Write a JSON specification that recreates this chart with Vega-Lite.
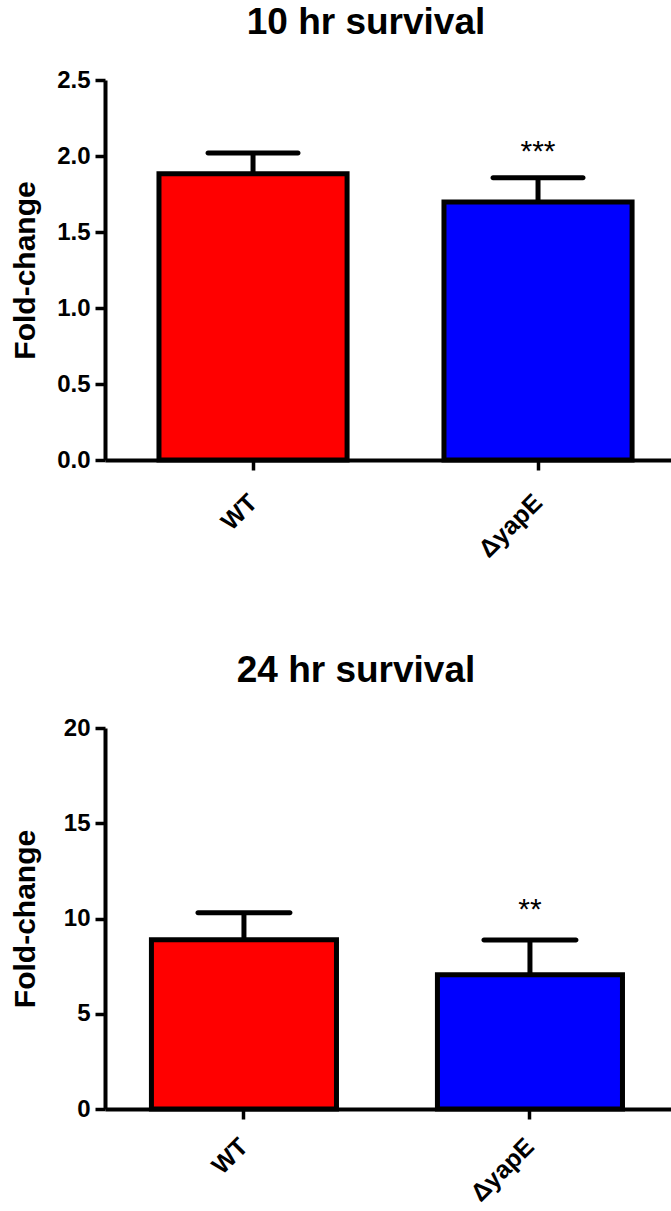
{
  "$schema": "https://vega.github.io/schema/vega-lite/v6.json",
  "padding": {"left": 10, "top": 4, "right": 0, "bottom": 0},
  "background": "white",
  "config": {
    "font": "Liberation Sans",
    "view": {"stroke": null},
    "axis": {
      "grid": false,
      "domainColor": "black",
      "domainWidth": 4,
      "tickColor": "black",
      "tickWidth": 3.5,
      "tickSize": 10,
      "labelColor": "black",
      "labelFont": "Liberation Sans",
      "labelFontWeight": "bold",
      "labelFontSize": 24,
      "titleColor": "black",
      "titleFont": "Liberation Sans",
      "titleFontWeight": "bold",
      "titleFontSize": 30
    },
    "axisX": {"labelFontSize": 25, "labelAngle": -45, "labelAlign": "right", "labelBaseline": "middle", "labelPadding": 28},
    "title": {"font": "Liberation Sans", "fontSize": 37, "fontWeight": "bold", "color": "black", "anchor": "middle", "frame": "group"}
  },
  "datasets": {
    "h10": [
      {"strain": "WT", "mean": 1.884, "upper": 2.02, "sig": ""},
      {"strain": "ΔyapE", "mean": 1.697, "upper": 1.857, "sig": "***"}
    ],
    "h24": [
      {"strain": "WT", "mean": 8.88, "upper": 10.3, "sig": ""},
      {"strain": "ΔyapE", "mean": 7.05, "upper": 8.87, "sig": "**"}
    ]
  },
  "spacing": 89,
  "vconcat": [
    {
      "data": {"name": "h10"},
      "title": {"text": "10 hr survival", "offset": 26, "dx": -22},
      "width": 566,
      "height": 380,
      "encoding": {
        "x": {
          "field": "strain", "type": "nominal", "sort": null,
          "scale": {"paddingInner": 0.34, "paddingOuter": 0.163, "align": 0.581},
          "axis": {"title": null}
        }
      },
      "layer": [
        {
          "mark": {"type": "rule", "strokeWidth": 5, "color": "black"},
          "encoding": {
            "y": {"field": "mean", "type": "quantitative", "title": "Fold-change"},
            "y2": {"field": "upper"}
          }
        },
        {
          "mark": {"type": "bar", "stroke": "black", "strokeWidth": 5, "opacity": 1},
          "encoding": {
            "y": {
              "field": "mean", "type": "quantitative", "title": "Fold-change",
              "scale": {"domain": [0, 2.5], "nice": false},
              "axis": {"values": [0, 0.5, 1, 1.5, 2, 2.5], "format": ".1f", "labelPadding": 5, "titlePadding": 16.6}
            },
            "color": {
              "field": "strain", "type": "nominal",
              "scale": {"domain": ["WT", "ΔyapE"], "range": ["#ff0000", "#0000ff"]},
              "legend": null
            }
          }
        },
        {
          "mark": {"type": "tick", "size": 95, "thickness": 5, "color": "black", "opacity": 1, "cornerRadius": 2.5},
          "encoding": {"y": {"field": "upper", "type": "quantitative", "title": "Fold-change"}}
        },
        {
          "mark": {"type": "text", "fontSize": 30, "dy": -17, "baseline": "alphabetic", "color": "black"},
          "encoding": {
            "y": {"field": "upper", "type": "quantitative", "title": "Fold-change"},
            "text": {"field": "sig"}
          }
        }
      ]
    },
    {
      "data": {"name": "h24"},
      "title": {"text": "24 hr survival", "offset": 26, "dx": -32},
      "width": 566,
      "height": 381,
      "encoding": {
        "x": {
          "field": "strain", "type": "nominal", "sort": null,
          "scale": {"paddingInner": 0.353, "paddingOuter": 0.166, "align": 0.489},
          "axis": {"title": null, "labelPadding": 23}
        }
      },
      "layer": [
        {
          "mark": {"type": "rule", "strokeWidth": 5, "color": "black"},
          "encoding": {
            "y": {"field": "mean", "type": "quantitative", "title": "Fold-change"},
            "y2": {"field": "upper"}
          }
        },
        {
          "mark": {"type": "bar", "stroke": "black", "strokeWidth": 5, "opacity": 1},
          "encoding": {
            "y": {
              "field": "mean", "type": "quantitative", "title": "Fold-change",
              "scale": {"domain": [0, 20], "nice": false},
              "axis": {"values": [0, 5, 10, 15, 20], "labelPadding": 5, "titlePadding": 23.3}
            },
            "color": {
              "field": "strain", "type": "nominal",
              "scale": {"domain": ["WT", "ΔyapE"], "range": ["#ff0000", "#0000ff"]},
              "legend": null
            }
          }
        },
        {
          "mark": {"type": "tick", "size": 97, "thickness": 5, "color": "black", "opacity": 1, "cornerRadius": 2.5},
          "encoding": {"y": {"field": "upper", "type": "quantitative", "title": "Fold-change"}}
        },
        {
          "mark": {"type": "text", "fontSize": 30, "dy": -21, "baseline": "alphabetic", "color": "black"},
          "encoding": {
            "y": {"field": "upper", "type": "quantitative", "title": "Fold-change"},
            "text": {"field": "sig"}
          }
        }
      ]
    }
  ]
}
